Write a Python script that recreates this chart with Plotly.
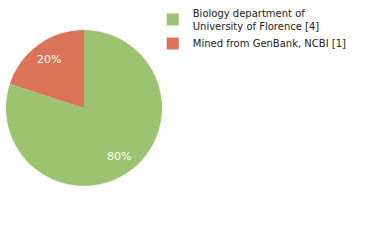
import math
import plotly.graph_objects as go

labels = ["Biology department of<br>University of Florence [4]", "Mined from GenBank, NCBI [1]"]
values = [4, 1]
colors = ["#9DC371", "#DA7357"]

W, H = 380, 240
cx, cy, R = 84, 108, 78  # pie centre and radius in pixels

fig = go.Figure(go.Pie(
    labels=labels, values=values, sort=False, direction="clockwise", rotation=0,
    marker=dict(colors=colors, line=dict(width=0)),
    textinfo="none",
    domain=dict(x=[(cx - R) / W, (cx + R) / W],
                y=[1 - (cy + R) / H, 1 - (cy - R) / H]),
    hoverinfo="none",
))

total = sum(values)
start = 0.0
annotations = []
for v in values:
    frac = v / total
    mid = (start + frac / 2) * 2 * math.pi
    start += frac
    px = cx + math.sin(mid) * R * 0.77
    py = cy - math.cos(mid) * R * 0.77
    annotations.append(dict(
        x=px / W, y=1 - py / H, xref="paper", yref="paper", showarrow=False,
        text=f"{frac:.0%}", font=dict(color="white", size=11, family="DejaVu Sans"),
        xanchor="center", yanchor="middle",
    ))

fig.update_layout(
    width=W, height=H, margin=dict(l=0, r=0, t=0, b=0),
    paper_bgcolor="white", plot_bgcolor="white",
    showlegend=True, annotations=annotations,
    legend=dict(x=0.402, y=1.0, xanchor="left", yanchor="top",
                font=dict(family="DejaVu Sans", size=10, color="#222"),
                tracegroupgap=0, itemwidth=30),
)
fig.write_html("out.html")
